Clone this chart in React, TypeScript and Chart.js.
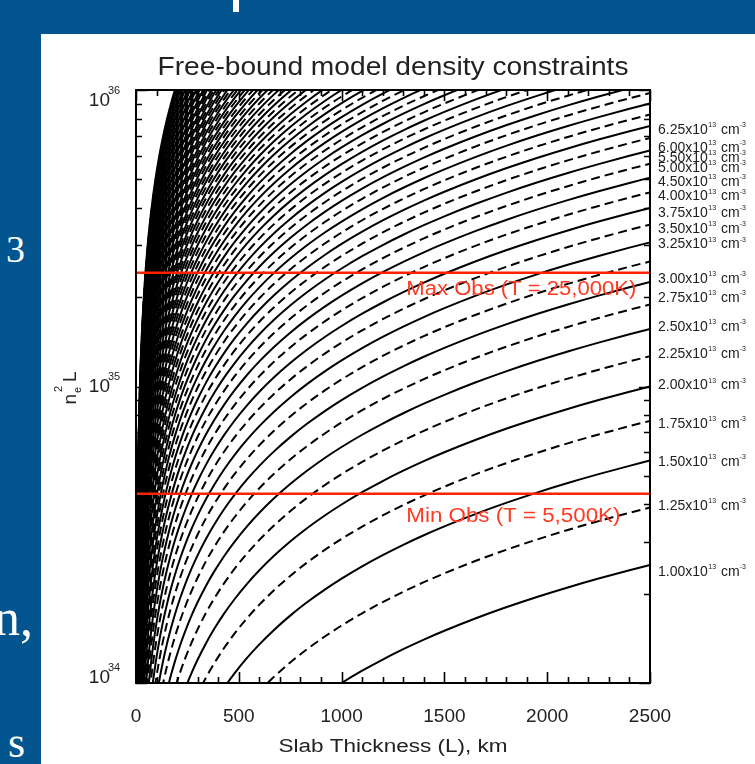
import React, { useEffect, useRef } from "react";
import { Chart, registerables } from "chart.js";
Chart.register(...registerables);

// electron densities of the model curves, in units of 1e13 cm^-3
const densities = [
  1.0, 1.25, 1.5, 1.75, 2.0, 2.25, 2.5, 2.75, 3.0, 3.25, 3.5, 3.75, 4.0, 4.25, 4.5, 4.75,
  5.0, 5.25, 5.5, 5.75, 6.0, 6.25, 6.5, 6.75, 7.0, 7.25, 7.5, 7.75, 8.0, 8.25, 8.5, 8.75,
  9.0, 9.25, 9.5, 9.75, 10.0, 10.25, 10.5, 10.75, 11.0, 11.25, 11.5, 11.75, 12.0, 12.25,
  12.5, 12.75, 13.0, 13.25, 13.5, 13.75, 14.0, 14.25, 14.5, 14.75, 15.0, 15.25, 15.5,
  15.75, 16.0, 16.25, 16.5, 16.75, 17.0, 17.25, 17.5, 17.75, 18.0, 18.25, 18.5, 18.75,
  19.0, 19.25, 19.5, 19.75, 20.0, 20.25, 20.5, 20.75, 21.0, 21.25, 21.5, 21.75, 22.0,
  22.25, 22.5, 22.75, 23.0,
];

// slab thickness samples (km)
const thicknessKm = [
  0.5, 1, 1.5, 2, 2.5, 3, 4, 5, 6, 7, 8, 9, 10, 12, 14, 16, 18, 20, 23, 26, 30, 35, 40, 45,
  50, 57, 65, 73, 82, 91, 100, 115, 130, 150, 170, 190, 215, 240, 270, 300, 340, 380, 430,
  480, 540, 600, 670, 750, 830, 920, 1000, 1100, 1200, 1300, 1400, 1500, 1650, 1800, 1950,
  2100, 2250, 2400, 2500,
];

// labelled curves (right margin) and the n_e^2 L level where each label sits
const labelDensities = [
  "6.25", "6.00", "5.50", "5.00", "4.50", "4.00", "3.75", "3.50", "3.25", "3.00", "2.75",
  "2.50", "2.25", "2.00", "1.75", "1.50", "1.25", "1.00",
];
const labelLevels = [
  7.33e35, 6.38e35, 5.9e35, 5.46e35, 4.9e35, 4.37e35, 3.85e35, 3.4e35, 3.01e35, 2.31e35,
  1.98e35, 1.59e35, 1.29e35, 1.007e35, 7.45e34, 5.55e34, 3.94e34, 2.37e34,
];

// observed limits
const maxObs = 2.42e35;
const minObs = 4.35e34;
const maxObsLabel = "Max Obs (T = 25,000K)";
const minObsLabel = "Min Obs (T = 5,500K)";

const xMajorTicks = [0, 500, 1000, 1500, 2000, 2500];
const xMinorStep = 100;
const yDecades = [34, 35, 36];

const FONT = '"Liberation Sans", Arial, sans-serif';

function drawFitted(ctx: CanvasRenderingContext2D, text: string, x: number, y: number, size: number, width: number, align: "left" | "center") {
  ctx.font = `${size}px ${FONT}`;
  const w = ctx.measureText(text).width;
  const sx = width / w;
  ctx.save();
  ctx.translate(x, y);
  ctx.scale(sx, 1);
  ctx.textAlign = align;
  ctx.fillText(text, 0, 0);
  ctx.restore();
}

const idlPlugin = {
  id: "idlAxes",
  afterDatasetsDraw(chart: any) {
    const { ctx, chartArea: a, scales } = chart;
    const xs = scales.x;
    const ys = scales.y;
    ctx.save();
    ctx.fillStyle = "#000";
    ctx.strokeStyle = "#000";

    // red labels
    ctx.fillStyle = "#ff3a22";
    ctx.textBaseline = "middle";
    drawFitted(ctx, maxObsLabel, xs.getPixelForValue(1315), ys.getPixelForValue(maxObs) + 17, 20, 230, "left");
    drawFitted(ctx, minObsLabel, xs.getPixelForValue(1315), ys.getPixelForValue(minObs) + 23, 20, 214, "left");

    // ticks
    ctx.lineWidth = 1.6;
    ctx.beginPath();
    const major = 11, minor = 6;
    for (let v = xMajorTicks[0]; v <= xMajorTicks[xMajorTicks.length - 1]; v += xMinorStep) {
      const px = Math.round(xs.getPixelForValue(v)) + 0.5;
      const len = xMajorTicks.includes(v) ? major : minor;
      ctx.moveTo(px, a.bottom);
      ctx.lineTo(px, a.bottom - len);
      ctx.moveTo(px, a.top);
      ctx.lineTo(px, a.top + len);
    }
    for (let i = 0; i < yDecades.length; i++) {
      const e = yDecades[i];
      const py = Math.round(ys.getPixelForValue(Math.pow(10, e))) + 0.5;
      ctx.moveTo(a.left, py);
      ctx.lineTo(a.left + major, py);
      ctx.moveTo(a.right, py);
      ctx.lineTo(a.right - major, py);
      if (i < yDecades.length - 1) {
        for (let k = 2; k <= 9; k++) {
          const pm = Math.round(ys.getPixelForValue(k * Math.pow(10, e))) + 0.5;
          ctx.moveTo(a.left, pm);
          ctx.lineTo(a.left + minor, pm);
          ctx.moveTo(a.right, pm);
          ctx.lineTo(a.right - minor, pm);
        }
      }
    }
    ctx.stroke();

    // border
    ctx.lineWidth = 2;
    ctx.strokeRect(a.left, a.top, a.right - a.left, a.bottom - a.top);

    ctx.fillStyle = "#222";
    // x tick labels
    ctx.font = `19px ${FONT}`;
    ctx.textAlign = "center";
    ctx.textBaseline = "middle";
    for (const v of xMajorTicks) {
      ctx.fillText(String(v), xs.getPixelForValue(v), a.bottom + 34);
    }
    // x title
    ctx.textBaseline = "middle";
    drawFitted(ctx, "Slab Thickness (L), km", (a.left + a.right) / 2, a.bottom + 64, 18, 229, "center");

    // y tick labels 10^e
    for (const e of yDecades) {
      let py = ys.getPixelForValue(Math.pow(10, e));
      py = Math.max(a.top + 11, Math.min(a.bottom - 5, py));
      ctx.font = `19px ${FONT}`;
      ctx.textAlign = "right";
      ctx.textBaseline = "middle";
      ctx.fillText("10", a.left - 26, py);
      ctx.font = `11px ${FONT}`;
      ctx.textAlign = "left";
      ctx.fillText(String(e), a.left - 28, py - 10);
    }

    // y title: n_e^2 L (rotated)
    ctx.save();
    ctx.translate(a.left - 60, (a.top + a.bottom) / 2 + 18);
    ctx.rotate(-Math.PI / 2);
    ctx.textAlign = "left";
    ctx.textBaseline = "alphabetic";
    ctx.font = `19px ${FONT}`;
    ctx.fillText("n", 0, 0);
    const nw = ctx.measureText("n").width;
    ctx.font = `11px ${FONT}`;
    ctx.fillText("e", nw + 1, 5);
    ctx.fillText("2", nw + 2, -14);
    ctx.font = `19px ${FONT}`;
    ctx.fillText("L", nw + 12, 0);
    ctx.restore();

    // title
    ctx.fillStyle = "#222";
    ctx.textBaseline = "alphabetic";
    drawFitted(ctx, "Free-bound model density constraints", (a.left + a.right) / 2, a.top - 15, 26, 471, "center");

    // right margin curve labels
    ctx.fillStyle = "#222";
    for (let i = 0; i < labelDensities.length; i++) {
      const py = ys.getPixelForValue(labelLevels[i]);
      let x = a.right + 8;
      ctx.textAlign = "left";
      ctx.textBaseline = "middle";
      ctx.font = `14px ${FONT}`;
      const t1 = `${labelDensities[i]}x10`;
      ctx.fillText(t1, x, py);
      x += ctx.measureText(t1).width + 0.5;
      ctx.font = `7px ${FONT}`;
      ctx.fillText("13", x, py - 5);
      x += ctx.measureText("13").width + 1;
      ctx.font = `14px ${FONT}`;
      ctx.fillText(" cm", x, py);
      x += ctx.measureText(" cm").width;
      ctx.font = `7px ${FONT}`;
      ctx.fillText("-3", x, py - 5);
    }

    ctx.restore();
  },
};

export default function App() {
  const ref = useRef<HTMLCanvasElement>(null);
  useEffect(() => {
    if (!ref.current) return;
    const curveSets = densities.map((m, i) => ({
      label: `${m}e13`,
      data: thicknessKm.map((L) => ({ x: L, y: Math.pow(m * 1e13, 2) * L * 1e5 })),
      borderColor: "#000",
      borderWidth: 2,
      borderDash: i % 2 === 0 ? [] : [9, 5],
      pointRadius: 0,
      fill: false,
      cubicInterpolationMode: "monotone" as const,
      order: 1,
    }));
    const obsSets = [maxObs, minObs].map((v) => ({
      label: String(v),
      data: [
        { x: xMajorTicks[0], y: v },
        { x: xMajorTicks[xMajorTicks.length - 1], y: v },
      ],
      borderColor: "#ff2200",
      borderWidth: 2.5,
      pointRadius: 0,
      fill: false,
      order: -1,
    }));
    const chart = new Chart(ref.current, {
      type: "line",
      data: { datasets: [...curveSets, ...obsSets] as any },
      options: {
        animation: false,
        responsive: false,
        devicePixelRatio: 1,
        layout: { padding: { left: 95, top: 56, right: 105, bottom: 81 } },
        plugins: { legend: { display: false }, tooltip: { enabled: false } },
        events: [],
        scales: {
          x: { type: "linear", min: 0, max: 2500, display: false },
          y: { type: "logarithmic", min: 1e34, max: 1e36, display: false },
        },
      },
      plugins: [idlPlugin],
    });
    return () => chart.destroy();
  }, []);

  const serif = '"Liberation Serif", "DejaVu Serif", serif';
  return (
    <div style={{ position: "fixed", left: 0, top: 0, width: 755, height: 764, background: "#03558f", overflow: "hidden" }}>
      <div style={{ position: "absolute", left: 233, top: 0, width: 6, height: 12, background: "#fff" }} />
      <div style={{ position: "absolute", left: 6, top: 226, color: "#fff", fontFamily: serif, fontSize: 38, lineHeight: "46px" }}>3</div>
      <div style={{ position: "absolute", left: -6, top: 588, color: "#fff", fontFamily: serif, fontSize: 52, lineHeight: "60px" }}>n,</div>
      <div style={{ position: "absolute", left: 8, top: 718, color: "#fff", fontFamily: serif, fontSize: 44, lineHeight: "50px" }}>s</div>
      <div style={{ position: "absolute", left: 41, top: 34, width: 714, height: 730, background: "#fff" }}>
        <canvas ref={ref} width={714} height={730} style={{ display: "block", width: 714, height: 730 }} />
      </div>
    </div>
  );
}
